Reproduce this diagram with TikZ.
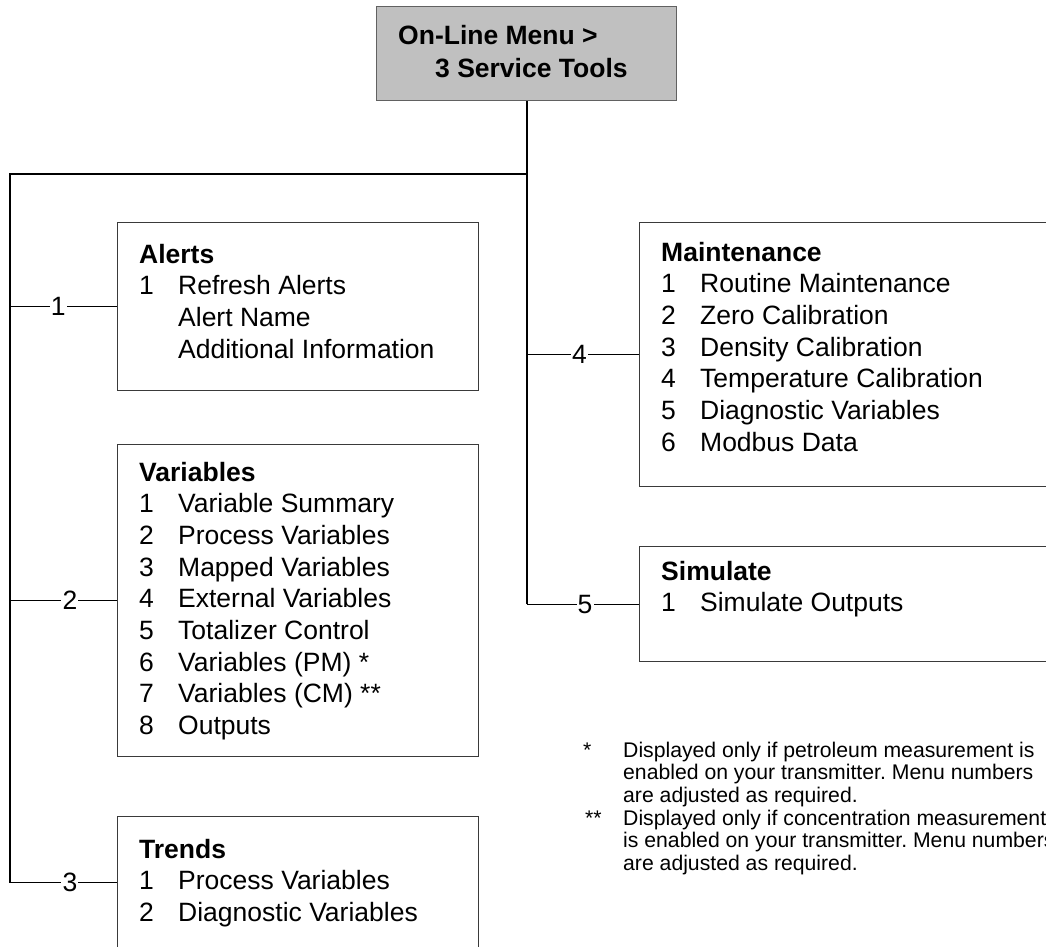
\documentclass[tikz,border=0pt]{standalone}
\usepackage{fontspec}
\setmainfont{Liberation Sans}
\frenchspacing
\definecolor{boxline}{HTML}{3A3A3A}
\definecolor{headfill}{HTML}{C0C0C0}
\newcommand\itm[2]{\makebox[39pt][l]{#1}#2}
\newcommand\bodyfont{\fontsize{26.5}{31.7}\selectfont}
\newcommand\notefont{\fontsize{21.2}{22.8}\selectfont}
\tikzset{
  menubox/.style={draw=boxline, line width=1.3pt, fill=white, rectangle, anchor=north west, inner sep=0pt},
  headbox/.style={menubox, fill=headfill, draw=boxline!80},
  trunk/.style={line width=2pt, draw=black},
  branch/.style={line width=1.2pt, draw=black},
  num/.style={fill=white, inner sep=1.2pt, font=\bodyfont},
  boxtext/.style={anchor=base west, inner sep=0pt, align=left, font=\bodyfont},
  notetext/.style={anchor=base west, inner sep=0pt, align=left, font=\notefont},
}
\begin{document}
\begin{tikzpicture}[x=1pt, y=-1pt]
\useasboundingbox (0,0) rectangle (1046,947);
\begin{scope}
\clip (0,0) rectangle (1046,947);
% boxes
\node[headbox, minimum width=300pt, minimum height=94pt] (top) at (376,6) {};
\node[boxtext] (topT) at (398,45) {\begin{tabular}[t]{@{}l@{}}\textbf{On-Line Menu >}\\[1pt] \hspace*{37pt}\textbf{3 Service Tools}\end{tabular}};

\node[menubox, minimum width=361pt, minimum height=168pt] (alerts) at (117,222) {};
\node[boxtext] (alertsT) at (139,263) {\begin{tabular}[t]{@{}l@{}}\textbf{Alerts}\\ \itm{1}{Refresh Alerts}\\ \itm{}{Alert Name}\\ \itm{}{Additional Information}\end{tabular}};

\node[menubox, minimum width=361pt, minimum height=312pt] (vars) at (117,444) {};
\node[boxtext] (varsT) at (139,481) {\begin{tabular}[t]{@{}l@{}}\textbf{Variables}\\ \itm{1}{Variable Summary}\\ \itm{2}{Process Variables}\\ \itm{3}{Mapped Variables}\\ \itm{4}{External Variables}\\ \itm{5}{Totalizer Control}\\ \itm{6}{Variables (PM) *}\\ \itm{7}{Variables (CM) **}\\ \itm{8}{Outputs}\end{tabular}};

\node[menubox, minimum width=361pt, minimum height=132pt] (trends) at (117,816) {};
\node[boxtext] (trendsT) at (139,858) {\begin{tabular}[t]{@{}l@{}}\textbf{Trends}\\ \itm{1}{Process Variables}\\ \itm{2}{Diagnostic Variables}\end{tabular}};

\node[menubox, minimum width=430pt, minimum height=264pt] (maint) at (639,222) {};
\node[boxtext] (maintT) at (661,261) {\begin{tabular}[t]{@{}l@{}}\textbf{Maintenance}\\ \itm{1}{Routine Maintenance}\\ \itm{2}{Zero Calibration}\\ \itm{3}{Density Calibration}\\ \itm{4}{Temperature Calibration}\\ \itm{5}{Diagnostic Variables}\\ \itm{6}{Modbus Data}\end{tabular}};

\node[menubox, minimum width=430pt, minimum height=115pt] (sim) at (639,546) {};
\node[boxtext] (simT) at (661,580) {\begin{tabular}[t]{@{}l@{}}\textbf{Simulate}\\ \itm{1}{Simulate Outputs}\end{tabular}};

% connectors
\coordinate (jl) at (10,174);
\draw[trunk] (top.south) -- (top.south |- jl) -- (jl) -- (jl |- trends.west);
\draw[trunk] (top.south |- jl) -- (top.south |- sim.west);
\draw[branch] (jl |- alerts.west) -- node[num, pos=.45] (n1) {1} (alerts.west);
\draw[branch] (jl |- vars.west) -- node[num, pos=.56] (n2) {2} (vars.west);
\draw[branch] (jl |- trends.west) -- node[num, pos=.56] (n3) {3} (trends.west);
\draw[branch] (top.south |- maint.west) -- node[num, pos=.47] (n4) {4} (maint.west);
\draw[branch] (top.south |- sim.west) -- node[num, pos=.52] (n5) {5} (sim.west);

% footnotes
\node[notetext] (s1) at (583,757) {*};
\node[notetext] (f1) at (623,757) {\begin{tabular}[t]{@{}l@{}}Displayed only if petroleum measurement is\\ enabled on your transmitter. Menu numbers\\ are adjusted as required.\end{tabular}};
\node[notetext] (s2) at (585,825) {**};
\node[notetext] (f2) at (623,825) {\begin{tabular}[t]{@{}l@{}}Displayed only if concentration measurement\\ is enabled on your transmitter. Menu numbers\\ are adjusted as required.\end{tabular}};
\end{scope}
\end{tikzpicture}
\end{document}
